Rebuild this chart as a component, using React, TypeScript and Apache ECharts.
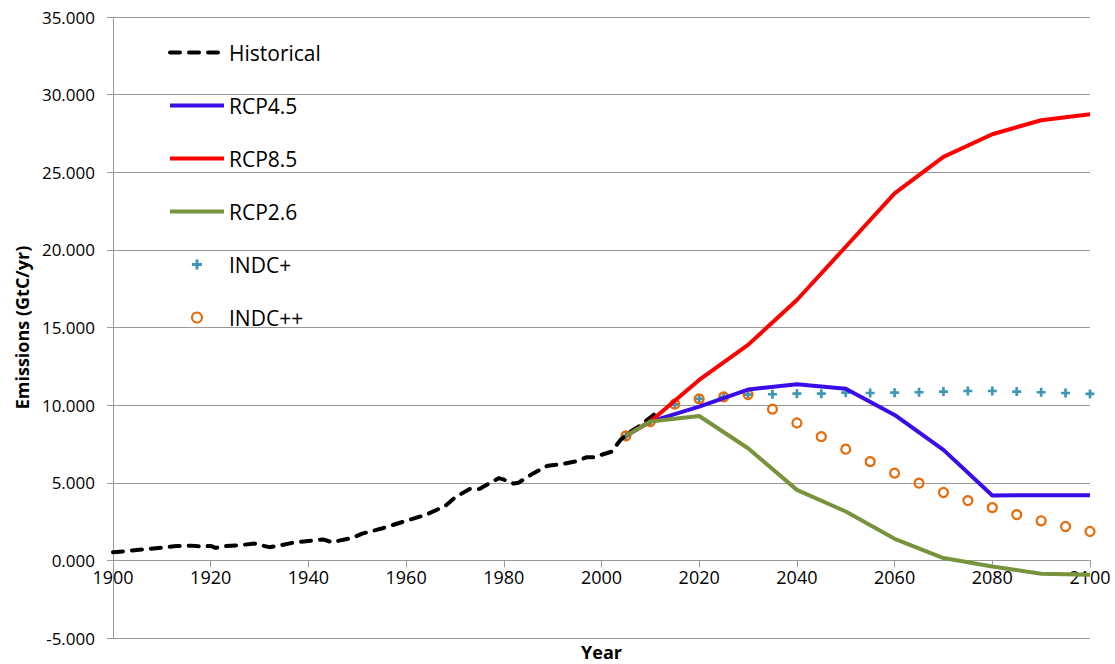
import React, { useEffect, useRef } from "react";
import * as echarts from "echarts";

const historicalYears = [1900, 1903, 1906, 1910, 1913, 1916, 1918, 1920, 1921, 1923, 1926, 1929, 1930, 1932, 1934, 1937, 1940, 1943, 1945, 1946, 1949, 1951, 1955, 1960, 1964, 1968, 1970, 1973, 1975, 1979, 1980, 1982, 1983, 1986, 1989, 1992, 1995, 1997, 1999, 2000, 2002, 2004, 2006, 2008, 2010, 2012];
const historicalValues = [0.53, 0.6, 0.7, 0.82, 0.92, 0.95, 0.9, 0.93, 0.8, 0.92, 0.98, 1.08, 1.0, 0.85, 0.95, 1.15, 1.25, 1.35, 1.15, 1.25, 1.45, 1.72, 2.05, 2.55, 2.93, 3.5, 4.05, 4.6, 4.6, 5.3, 5.2, 4.95, 5.0, 5.6, 6.1, 6.2, 6.4, 6.65, 6.65, 6.8, 7.0, 7.8, 8.3, 8.7, 9.2, 9.7];

const rcpYears = [2005, 2010, 2020, 2030, 2040, 2050, 2060, 2070, 2080, 2090, 2100];
const rcp45Values = [8.02, 8.94, 9.9, 11.0, 11.35, 11.05, 9.37, 7.12, 4.18, 4.2, 4.2];
const rcp85Values = [8.02, 8.94, 11.62, 13.88, 16.77, 20.2, 23.64, 25.99, 27.45, 28.35, 28.74];
const rcp26Values = [8.02, 8.94, 9.3, 7.22, 4.54, 3.15, 1.39, 0.15, -0.4, -0.86, -0.92];

const indcYears = [2005, 2010, 2015, 2020, 2025, 2030, 2035, 2040, 2045, 2050, 2055, 2060, 2065, 2070, 2075, 2080, 2085, 2090, 2095, 2100];
const indcPlusValues = [8.02, 8.94, 10.06, 10.4, 10.53, 10.68, 10.7, 10.74, 10.74, 10.8, 10.78, 10.8, 10.83, 10.87, 10.91, 10.91, 10.87, 10.83, 10.78, 10.72];
const indcPlusPlusValues = [8.02, 8.94, 10.06, 10.4, 10.53, 10.68, 9.74, 8.85, 7.97, 7.16, 6.36, 5.62, 4.97, 4.37, 3.85, 3.4, 2.95, 2.55, 2.18, 1.86];

const lineNames = ["Historical", "RCP4.5", "RCP8.5", "RCP2.6"];
const markerNames = ["INDC+", "INDC++"];
const yMin = -5;
const yMax = 35;
const yStep = 5;
const xMin = 1900;
const xMax = 2100;
const xStep = 20;

const zip = (xs: number[], ys: number[]) => xs.map((x, i) => [x, ys[i]]);

const PLUS = "path://M3.5,0H6.5V3.5H10V6.5H6.5V10H3.5V6.5H0V3.5H3.5Z";
const FONT = "'Open Sans', 'Noto Sans', sans-serif";

const CHART_W = 1115;
const CHART_H = 664;
const GRID = { left: 113, right: 25, top: 17, bottom: 26 };

export default function App() {
  const ref = useRef<HTMLDivElement>(null);
  useEffect(() => {
    if (!ref.current) return;
    const chart = echarts.init(ref.current, undefined, { renderer: "svg" });
    const plotH = CHART_H - GRID.top - GRID.bottom;
    // x axis sits on the value 0 of the y axis
    const zeroOffset = -plotH * (0 - yMin) / (yMax - yMin);
    chart.setOption({
      animation: false,
      backgroundColor: "#ffffff",
      textStyle: { fontFamily: FONT },
      grid: { ...GRID, containLabel: false, outerBoundsMode: "none" },
      legend: {
        orient: "vertical",
        left: 168,
        top: 42,
        padding: 0,
        itemWidth: 54,
        itemHeight: 10,
        itemGap: 32,
        data: [
          ...lineNames.map((n) => ({ name: n, itemStyle: { opacity: 0 }, lineStyle: { width: 4 } })),
          ...markerNames.map((n) => ({ name: n })),
        ],
        textStyle: { fontSize: 21, lineHeight: 20, color: "#000", fontFamily: FONT },
      },
      xAxis: {
        type: "value",
        min: xMin,
        max: xMax,
        interval: xStep,
        position: "bottom",
        offset: zeroOffset,
        name: "Year",
        nameLocation: "middle",
        nameGap: 83,
        nameTextStyle: { fontSize: 18, fontWeight: "bold", color: "#000", fontFamily: FONT },
        axisLine: { show: true, onZero: false, lineStyle: { color: "#999", width: 1 } },
        axisTick: { show: true, length: 7, lineStyle: { color: "#999" } },
        axisLabel: { fontSize: 18, color: "#000", margin: 8, fontFamily: FONT, formatter: (v: number) => String(v) },
        splitLine: { show: false },
      },
      yAxis: {
        type: "value",
        min: yMin,
        max: yMax,
        interval: yStep,
        name: "Emissions (GtC/yr)",
        nameLocation: "middle",
        nameGap: 81,
        nameTextStyle: { fontSize: 18, fontWeight: "bold", color: "#000", fontFamily: FONT },
        axisLine: { show: true, onZero: false, lineStyle: { color: "#999", width: 1 } },
        axisTick: { show: true, length: 6, lineStyle: { color: "#999" } },
        axisLabel: { fontSize: 17, color: "#000", margin: 18, fontFamily: FONT, formatter: (v: number) => v.toFixed(3) },
        splitLine: { show: true, lineStyle: { color: "#999", width: 1 } },
      },
      series: [
        {
          name: "Historical",
          type: "line",
          data: zip(historicalYears, historicalValues),
          symbol: "none",
          lineStyle: { color: "#000", width: 4, type: [10, 9], cap: "round" },
          itemStyle: { color: "#000" },
        },
        {
          name: "RCP4.5",
          type: "line",
          data: zip(rcpYears, rcp45Values),
          symbol: "none",
          lineStyle: { color: "#3a0ce8", width: 4 },
          itemStyle: { color: "#3a0ce8" },
        },
        {
          name: "RCP8.5",
          type: "line",
          data: zip(rcpYears, rcp85Values),
          symbol: "none",
          lineStyle: { color: "#ff0000", width: 4 },
          itemStyle: { color: "#ff0000" },
        },
        {
          name: "RCP2.6",
          type: "line",
          data: zip(rcpYears, rcp26Values),
          symbol: "none",
          lineStyle: { color: "#77933c", width: 4 },
          itemStyle: { color: "#77933c" },
        },
        {
          name: "INDC+",
          type: "scatter",
          data: zip(indcYears, indcPlusValues),
          symbol: PLUS,
          symbolSize: 9,
          symbolKeepAspect: true,
          itemStyle: { color: "#3d97b5", opacity: 1 },
        },
        {
          name: "INDC++",
          type: "scatter",
          data: zip(indcYears, indcPlusPlusValues),
          symbol: "circle",
          symbolSize: 9,
          itemStyle: { color: "rgba(0,0,0,0)", borderColor: "#e46c0a", borderWidth: 2.2, opacity: 1 },
        },
      ],
    });
    return () => chart.dispose();
  }, []);
  return (
    <div
      ref={ref}
      style={{ position: "absolute", left: 0, top: 0, width: CHART_W, height: CHART_H }}
    />
  );
}
